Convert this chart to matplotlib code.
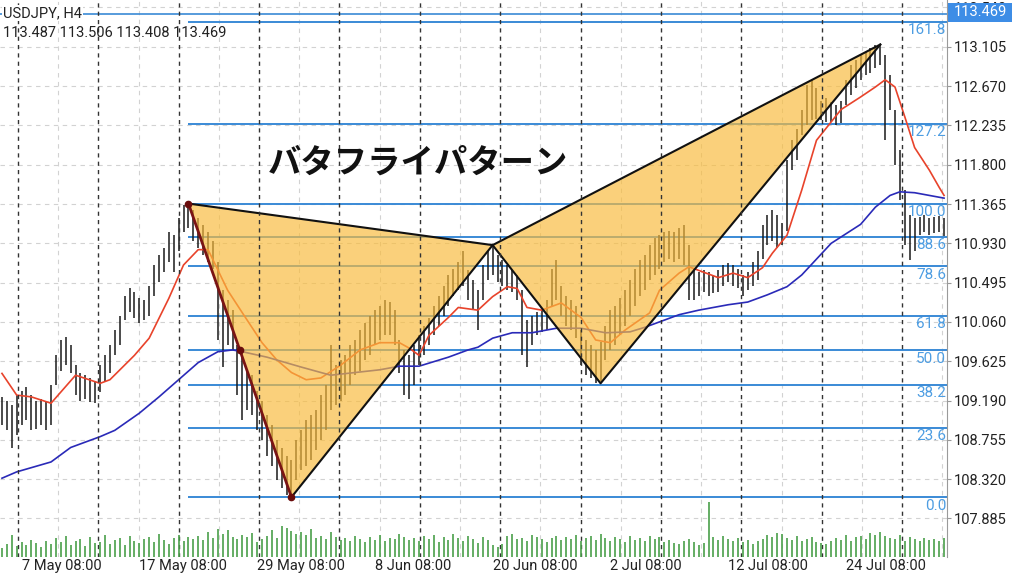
import numpy as np
import matplotlib.pyplot as plt
import matplotlib.transforms as mtransforms
from matplotlib.patches import Polygon, Rectangle

plt.rcParams['font.family'] = ['Roboto', 'DejaVu Sans']

# bar highs / lows (USDJPY H4, ~2 bars merged per entry)
hi = [109.23, 109.19, 109.14, 109.25, 109.30, 109.34, 109.25, 109.19, 109.21, 109.19,
      109.36, 109.69, 109.86, 109.89, 109.80, 109.58, 109.50, 109.47, 109.44, 109.41,
      109.58, 109.69, 109.80, 109.97, 110.13, 110.35, 110.43, 110.39, 110.32, 110.30,
      110.46, 110.69, 110.80, 110.88, 111.05, 111.02, 111.21, 111.35, 111.37, 111.30,
      111.21, 111.13, 111.05, 110.96, 110.72, 110.41, 110.30, 110.19, 109.80, 109.75,
      109.52, 109.47, 109.30, 109.19, 109.03, 108.92, 108.75, 108.66, 108.58, 108.53,
      108.75, 108.86, 108.97, 109.03, 109.08, 109.25, 109.36, 109.80, 109.58, 109.64,
      109.69, 109.80, 109.86, 109.97, 110.05, 110.13, 110.19, 110.24, 110.30, 110.28,
      110.19, 109.86, 109.75, 109.69, 109.80, 109.91, 110.02, 110.10, 110.24, 110.35,
      110.46, 110.58, 110.65, 110.72, 110.85, 110.63, 110.52, 110.41, 110.69, 110.85,
      110.91, 110.80, 110.74, 110.69, 110.63, 110.58, 110.41, 110.08, 110.13, 110.17,
      110.19, 110.30, 110.65, 110.74, 110.46, 110.35, 110.30, 110.24, 109.97, 109.86,
      109.80, 109.75, 109.84, 110.02, 110.19, 110.24, 110.32, 110.41, 110.52, 110.65,
      110.74, 110.80, 110.91, 110.99, 111.02, 111.05, 111.07, 111.05, 111.10, 111.13,
      110.91, 110.65, 110.61, 110.63, 110.61, 110.58, 110.63, 110.69, 110.71, 110.69,
      110.65, 110.58, 110.61, 110.72, 110.85, 111.13, 111.24, 111.30, 111.24, 111.16,
      111.85, 112.07, 112.20, 112.40, 112.68, 112.74, 112.65, 112.51, 112.54, 112.49,
      112.46, 112.51, 112.74, 112.90, 112.96, 113.01, 113.05, 113.09, 113.12, 113.14,
      113.01, 112.79, 112.40, 111.96, 111.52, 111.24, 111.21, 111.22, 111.24, 111.21,
      111.22, 111.23, 111.21]
lo = [108.92, 108.86, 108.66, 108.81, 108.92, 108.97, 108.86, 108.88, 108.92, 108.86,
      108.92, 109.36, 109.52, 109.58, 109.50, 109.25, 109.19, 109.21, 109.17, 109.16,
      109.28, 109.41, 109.50, 109.69, 109.80, 110.08, 110.17, 110.10, 110.05, 110.08,
      110.13, 110.35, 110.50, 110.61, 110.72, 110.61, 110.85, 111.05, 111.10, 110.96,
      110.88, 110.80, 110.72, 110.65, 109.86, 109.56, 109.80, 109.75, 109.25, 108.97,
      109.08, 109.03, 108.86, 108.75, 108.58, 108.47, 108.31, 108.22, 108.14, 108.12,
      108.31, 108.42, 108.47, 108.53, 108.64, 108.75, 108.86, 109.08, 109.14, 109.19,
      109.25, 109.36, 109.47, 109.52, 109.64, 109.69, 109.80, 109.86, 109.91, 109.91,
      109.80, 109.50, 109.25, 109.21, 109.36, 109.58, 109.69, 109.80, 109.91, 110.02,
      110.13, 110.24, 110.35, 110.41, 110.46, 110.30, 110.19, 109.97, 110.30, 110.52,
      110.58, 110.50, 110.46, 110.41, 110.39, 110.30, 109.69, 109.56, 109.80, 109.91,
      109.95, 109.97, 110.24, 110.30, 110.13, 110.02, 109.97, 109.88, 109.58, 109.47,
      109.44, 109.38, 109.41, 109.64, 109.75, 109.80, 109.91, 110.02, 110.13, 110.24,
      110.35, 110.41, 110.52, 110.58, 110.65, 110.72, 110.76, 110.72, 110.76, 110.69,
      110.30, 110.30, 110.35, 110.39, 110.35, 110.38, 110.39, 110.46, 110.50, 110.46,
      110.43, 110.35, 110.41, 110.46, 110.52, 110.76, 110.91, 110.96, 110.88, 110.91,
      111.07, 111.74, 111.85, 112.13, 112.24, 112.29, 112.31, 112.29, 112.27, 112.27,
      112.24, 112.26, 112.46, 112.57, 112.65, 112.74, 112.79, 112.82, 112.87, 112.90,
      112.07, 112.40, 111.80, 111.41, 110.91, 110.74, 110.85, 111.02, 111.05, 111.02,
      111.04, 111.05, 111.01]
vol = [540, 780, 1320, 660, 900, 720, 1020, 840, 600, 960,
       780, 1140, 900, 1260, 720, 960, 1080, 660, 1200, 840,
       900, 1320, 780, 1020, 1140, 720, 1260, 960, 840, 1080,
       1200, 900, 1380, 1020, 780, 1140, 1320, 960, 1200, 1080,
       1260, 1020, 1500, 1140, 1680, 1380, 1620, 1200, 1080, 1320,
       1200, 1440, 900, 1080, 1260, 1620, 1140, 1860, 1740, 1560,
       1380, 1500, 1320, 1680, 1140, 1260, 1080, 1500, 1200, 1020,
       1140, 960, 1260, 1080, 900, 1200, 1020, 1320, 960, 1140,
       1080, 1380, 1200, 1020, 1140, 960, 1260, 1080, 1320, 900,
       1200, 1020, 1380, 1140, 960, 1260, 1080, 840, 1200, 1020,
       720, 600, 780, 1260, 1380, 1080, 1140, 960, 1320, 1200,
       1080, 900, 1140, 1260, 1020, 1200, 1080, 1320, 960, 1140,
       1260, 1020, 1380, 1140, 960, 1200, 1080, 900, 1260, 1020,
       1140, 960, 1260, 1080, 1200, 900, 1020, 840, 780, 960,
       1080, 900, 720, 840, 3300, 1200, 1020, 1260, 1080, 960,
       1140, 900, 1020, 780, 960, 1080, 1320, 1200, 1440, 1380,
       1140, 1020, 1260, 960, 1080, 1200, 900, 840, 780, 960,
       1140, 1020, 1320, 960, 1200, 1260, 1080, 1440, 1320, 1500,
       1260, 1140, 1080, 1320, 960, 1200, 1080, 960, 1140, 1020,
       1080, 960, 1140]

# moving averages (bar index, value)
red_x = [0, 3, 6, 10, 15, 20, 22, 27, 30, 34, 37, 40, 42, 46, 49, 53, 56, 59, 62, 65,
         69, 73, 77, 81, 83, 85, 87, 91, 93, 97, 100, 103, 105, 107, 110, 114, 118, 121,
         124, 127, 132, 134, 138, 140, 143, 146, 149, 152, 155, 157, 160, 163, 166, 171,
         175, 178, 180, 182, 184, 186, 189, 191, 192]
red_y = [109.49, 109.25, 109.23, 109.16, 109.47, 109.38, 109.42, 109.69, 109.88, 110.32,
         110.69, 110.86, 110.86, 110.41, 110.16, 109.83, 109.64, 109.50, 109.42, 109.44,
         109.58, 109.75, 109.83, 109.83, 109.77, 109.69, 109.91, 110.11, 110.22, 110.19,
         110.34, 110.45, 110.43, 110.22, 110.19, 110.27, 110.11, 109.86, 109.83, 109.97,
         110.16, 110.41, 110.60, 110.67, 110.61, 110.55, 110.60, 110.55, 110.66, 110.82,
         111.02, 111.52, 112.07, 112.41, 112.55, 112.66, 112.74, 112.66, 112.33, 111.99,
         111.74, 111.55, 111.46]
blue_x = [0, 3, 10, 14, 20, 23, 28, 32, 36, 40, 44, 47, 49, 54, 61, 67, 77, 81, 85, 91,
          95, 97, 100, 104, 108, 113, 118, 123, 128, 131, 134, 138, 142, 148, 152, 156,
          160, 163, 169, 175, 178, 181, 183, 186, 191, 192]
blue_y = [108.33, 108.40, 108.51, 108.67, 108.79, 108.86, 109.05, 109.23, 109.42, 109.61,
          109.73, 109.75, 109.73, 109.67, 109.56, 109.47, 109.53, 109.57, 109.57, 109.67,
          109.75, 109.78, 109.88, 109.94, 109.94, 109.99, 109.99, 109.94, 109.95, 110.00,
          110.06, 110.14, 110.19, 110.25, 110.28, 110.36, 110.45, 110.58, 110.93, 111.14,
          111.33, 111.46, 111.50, 111.49, 111.44, 111.43]

# butterfly points X, A, B, C, D
pat_x = [38, 59, 100, 122, 179]
pat_y = [111.37, 108.12, 110.91, 109.38, 113.13]
fib_r = [0.0, 23.6, 38.2, 50.0, 61.8, 78.6, 88.6, 100.0, 127.2, 161.8]

price_levels = [113.540, 113.105, 112.670, 112.235, 111.800, 111.365, 110.930,
                110.495, 110.060, 109.625, 109.190, 108.755, 108.320, 107.885]
date_pos = [4, 28, 52, 76, 100, 124, 148, 172]
date_lab = ['7 May 08:00', '17 May 08:00', '29 May 08:00', '8 Jun 08:00',
            '20 Jun 08:00', '2 Jul 08:00', '12 Jul 08:00', '24 Jul 08:00']
last_price = 113.469

W, H = 1024, 576
fig = plt.figure(figsize=(W / 100, H / 100), dpi=100)
ax = fig.add_axes([0, 1 - 557 / H, 947 / W, 557 / H])
idx = np.arange(len(hi))
ax.set_xlim(-0.4, 192.6)
ax.set_ylim(107.458, 113.623)

# grid
for lv in price_levels:
    ax.axhline(lv, color='#d2d2d2', lw=0.8, ls=(0, (4, 4)), zorder=0)
for k in range(12):
    ax.axvline(11.46 + 16.38 * k, color='#d2d2d2', lw=0.8, ls=(0, (4, 4)), zorder=0)
    ax.axvline(3.27 + 16.38 * k, color='#333333', lw=1.0, ls=(0, (3, 3)), zorder=6)

# bars
ax.vlines(idx, lo, hi, color='#1a1a1a', lw=1.1, zorder=2)
ax.plot(red_x, red_y, color='#e8432b', lw=1.2, zorder=3)
ax.plot(blue_x, blue_y, color='#2a2ab8', lw=1.2, zorder=3)

# fibonacci levels from A (0) to X (100)
fib_col = '#3a8ad6'
lab_col = '#4d9de2'
xa, xx = pat_y[1], pat_y[0]
for r in fib_r:
    p = xa + r / 100 * (xx - xa)
    ax.hlines(p, pat_x[0], 192.6, color=fib_col, lw=1.4, zorder=1.5)
    ax.annotate(f'{r:.1f}', (192.4, p), xytext=(0, -1), textcoords='offset points',
                ha='right', va='top', color=lab_col, fontsize=11, zorder=7)
ax.axhline(last_price, color=fib_col, lw=1.2, zorder=1.5)

# pattern triangles
fill = '#f9bb3c'
for tri in ([0, 1, 2], [2, 3, 4]):
    pts = [(pat_x[i], pat_y[i]) for i in tri]
    ax.add_patch(Polygon(pts, closed=True, facecolor=fill, alpha=0.68,
                         edgecolor='none', zorder=4))
ax.plot([pat_x[0], pat_x[2]], [pat_y[0], pat_y[2]], color='#111111', lw=1.5, zorder=5)
ax.plot([pat_x[1], pat_x[2]], [pat_y[1], pat_y[2]], color='#111111', lw=1.5, zorder=5)
ax.plot(pat_x[2:], pat_y[2:], color='#111111', lw=1.5, zorder=5)
ax.plot([pat_x[2], pat_x[4]], [pat_y[2], pat_y[4]], color='#111111', lw=1.5, zorder=5)
ax.plot(pat_x[:2], pat_y[:2], color='#7a1414', lw=2.0, zorder=5)
mid_x = (pat_x[0] + pat_x[1]) / 2
mid_y = (pat_y[0] + pat_y[1]) / 2
ax.plot([pat_x[0], mid_x, pat_x[1]], [pat_y[0], mid_y, pat_y[1]], 'o',
        color='#6a0c0c', ms=4.5, zorder=6)

# axes styling
ax.yaxis.tick_right()
ax.set_yticks(price_levels)
ax.set_yticklabels([f'{v:.3f}' for v in price_levels])
ax.tick_params(axis='y', length=3, width=0.8, color='#999999', pad=2,
               labelsize=10.5, labelcolor='#222222')
ax.set_xticks([])
for s in ['top', 'left', 'bottom']:
    ax.spines[s].set_visible(False)
ax.spines['right'].set_color('#9a9a9a')

trans = mtransforms.blended_transform_factory(ax.transData, ax.transAxes)
for p, lab in zip(date_pos, date_lab):
    ax.text(p, -0.016, lab, transform=trans, ha='left', va='center',
            fontsize=10.5, color='#222222', clip_on=False)

# volume
axv = fig.add_axes([0, 1 - 557 / H, 947 / W, 60 / H])
axv.set_xlim(-0.4, 192.6)
axv.set_ylim(0, 3600)
axv.vlines(idx, 0, vol, color='#4aa04a', lw=1.2)
axv.patch.set_alpha(0)
axv.axis('off')

# header and labels
ax.text(0.003, 1 - 13 / 557, 'USDJPY, H4', transform=ax.transAxes, ha='left',
        va='center', fontsize=10.5, color='#222222', zorder=8,
        bbox=dict(facecolor='white', edgecolor='none', pad=0.5))
ax.text(0.003, 1 - 33 / 557, '113.487 113.506 113.408 113.469', transform=ax.transAxes,
        ha='left', va='center', fontsize=10.5, color='#222222', zorder=8)
fig.text(268 / W, 1 - 163 / H, 'バタフライパターン', ha='left', va='center',
         fontsize=24, fontweight='bold', color='#111111',
         family=['Noto Sans CJK JP', 'DejaVu Sans'])

fig.patches.append(Rectangle((948 / W, 1 - 22 / H), 64 / W, 19 / H,
                             transform=fig.transFigure, facecolor='#3d8de6',
                             edgecolor='none', zorder=5))
fig.text(980 / W, 1 - 12.5 / H, f'{last_price:.3f}', ha='center', va='center',
         color='white', fontsize=10.5, zorder=6)

fig.savefig('out.png', dpi=100)
